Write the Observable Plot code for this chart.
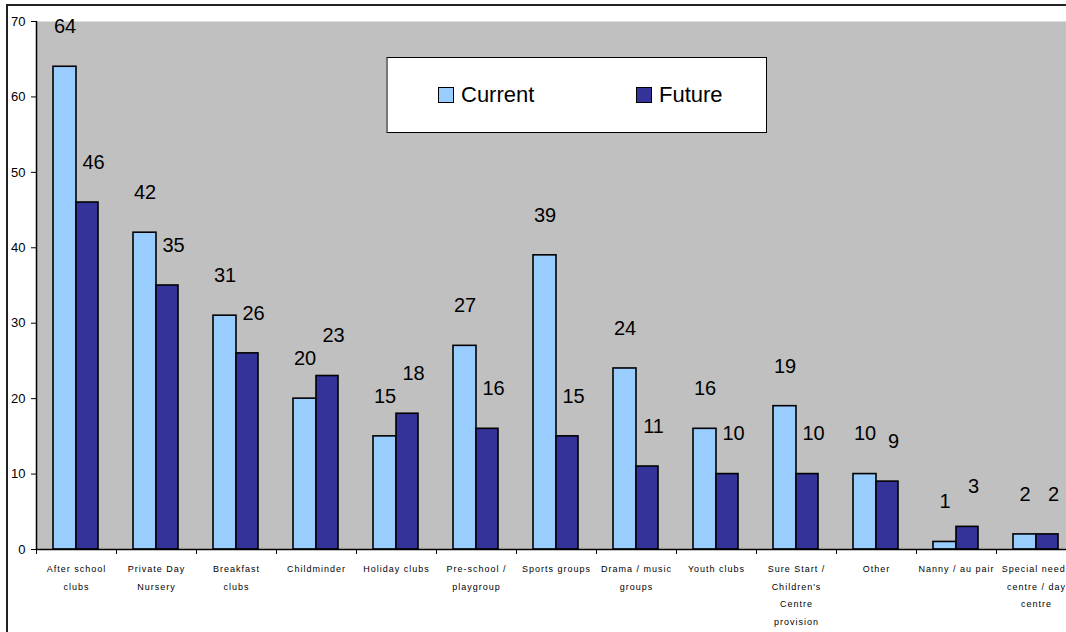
<!DOCTYPE html>
<html>
<head>
<meta charset="utf-8">
<script src="https://cdn.jsdelivr.net/npm/d3@7"></script>
<script src="https://cdn.jsdelivr.net/npm/@observablehq/plot@0.6"></script>
<style>
  html, body { margin: 0; padding: 0; background: #fff; overflow: hidden; }
  #wrap { position: relative; width: 1066px; height: 632px; font-family: "Liberation Sans", Arial, sans-serif; }
  #chart svg { position: absolute; left: 0; top: 0; display: block; }
  #border { position: absolute; left: 6px; top: 4px; width: 1100px; height: 700px; border: 2px solid #222; box-sizing: border-box; pointer-events: none; }
  #legend { position: absolute; left: 386px; top: 57px; width: 381px; height: 76px; background: #fff; border: 1px solid #000; border-left: 2px solid #777; box-sizing: border-box; }
  .item { position: absolute; top: 0; height: 74px; display: flex; align-items: center; font-size: 22px; color: #000; }
  .sw { width: 14px; height: 14px; border: 1px solid #000; margin-right: 7px; }
  svg g[aria-label="x-axis tick label"] text { letter-spacing: 1px; }
</style>
</head>
<body>
<div id="wrap">
  <div id="chart"></div>
  <div id="legend"></div>
  <div id="border"></div>
</div>
<script>
const categories = ["After school clubs", "Private Day Nursery", "Breakfast clubs", "Childminder", "Holiday clubs", "Pre-school / playgroup", "Sports groups", "Drama / music groups", "Youth clubs", "Sure Start / Children's Centre provision", "Other", "Nanny / au pair", "Special needs centre / day centre"];
const tickLabels = ["After school\nclubs", "Private Day\nNursery", "Breakfast\nclubs", "Childminder", "Holiday clubs", "Pre-school /\nplaygroup", "Sports groups", "Drama / music\ngroups", "Youth clubs", "Sure Start /\nChildren's\nCentre\nprovision", "Other", "Nanny / au pair", "Special needs\ncentre / day\ncentre"];
const current = [64, 42, 31, 20, 15, 27, 39, 24, 16, 19, 10, 1, 2];
const future  = [46, 35, 26, 23, 18, 16, 15, 11, 10, 10, 9, 3, 2];
const seriesNames = ["Current", "Future"];
const seriesColors = ["#99CCFF", "#333399"];
const yTicks = [0, 10, 20, 30, 40, 50, 60, 70];

const rows = categories.map((c, i) => ({category: c, current: current[i], future: future[i]}));

const chart = Plot.plot({
  width: 1066,
  height: 632,
  marginLeft: 36,
  marginTop: 21,
  marginRight: 0,
  marginBottom: 83,
  style: {fontFamily: "'Liberation Sans', Arial, sans-serif", background: "transparent", color: "#000"},
  x: {domain: categories, range: [36, 1076], padding: 0},
  y: {domain: [0, 70]},
  marks: [
    Plot.frame({fill: "#C0C0C0", stroke: "none"}),
    Plot.barY(rows, {x: "category", y: "current", fill: seriesColors[0], stroke: "#000", strokeWidth: 1.6, insetLeft: 17, insetRight: 40}),
    Plot.barY(rows, {x: "category", y: "future", fill: seriesColors[1], stroke: "#000", strokeWidth: 1.6, insetLeft: 40, insetRight: 18}),
    Plot.text(rows, {x: "category", y: "current", text: d => String(d.current), dx: -11.5, dy: -40, fontSize: 20, fill: "#000"}),
    Plot.text(rows, {x: "category", y: "future", text: d => String(d.future), dx: 17, dy: -40, fontSize: 20, fill: "#000"}),
    Plot.ruleY([0], {stroke: "#000", strokeWidth: 1.5}),
    Plot.ruleX([categories[0]], {x: d => d, dx: -40, stroke: "#000", strokeWidth: 1.5}),
    Plot.ruleX(categories, {x: d => d, y1: 0, y2: 0, insetBottom: -5, dx: -40, stroke: "#000"}),
    Plot.axisX({tickSize: 0, tickPadding: 10, fontSize: 9, lineHeight: 1.95, label: null, tickFormat: d => tickLabels[categories.indexOf(d)]}),
    Plot.axisY({ticks: yTicks, tickSize: 5, tickPadding: 6, fontSize: 13, label: null, stroke: "#000"})
  ]
});
document.getElementById("chart").appendChild(chart);

const legend = document.getElementById("legend");
const lefts = [50, 248];
seriesNames.forEach((name, i) => {
  const item = document.createElement("div");
  item.className = "item";
  item.style.left = lefts[i] + "px";
  const sw = document.createElement("div");
  sw.className = "sw";
  sw.style.background = seriesColors[i];
  const label = document.createElement("span");
  label.textContent = name;
  item.appendChild(sw);
  item.appendChild(label);
  legend.appendChild(item);
});
</script>
</body>
</html>
